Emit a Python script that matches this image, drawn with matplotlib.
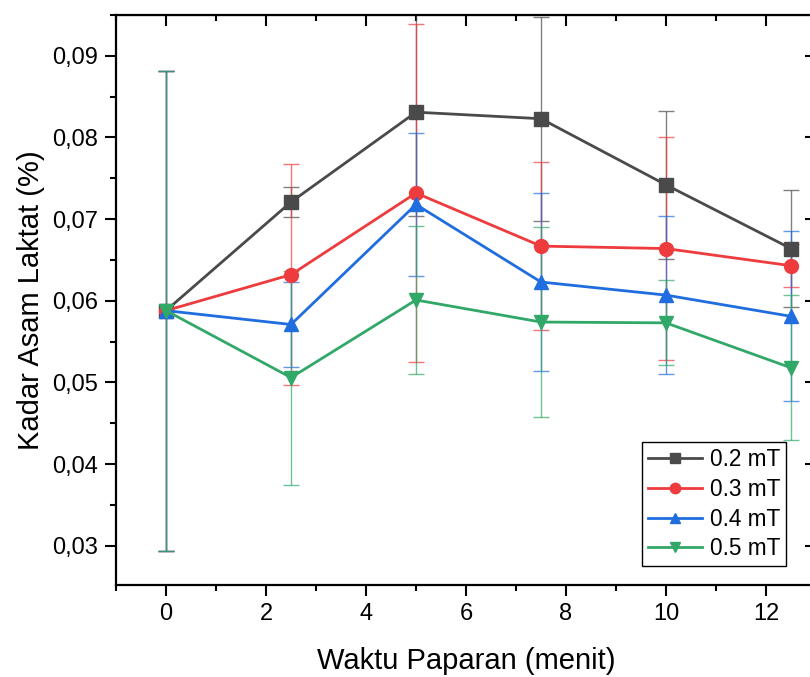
import matplotlib
matplotlib.use("Agg")
import matplotlib.pyplot as plt
from matplotlib.ticker import FuncFormatter, MultipleLocator

plt.rcParams['font.family'] = ['Liberation Sans', 'DejaVu Sans']

time = [0, 2.5, 5, 7.5, 10, 12.5]
labels = ["0.2 mT", "0.3 mT", "0.4 mT", "0.5 mT"]
y_02 = [0.0588, 0.0721, 0.0831, 0.0823, 0.0742, 0.0664]
e_02 = [0.0294, 0.0018, 0.0127, 0.0125, 0.0091, 0.0072]
y_03 = [0.0588, 0.0632, 0.0732, 0.0667, 0.0664, 0.0643]
e_03 = [0.0294, 0.0135, 0.0207, 0.0103, 0.0136, 0.0026]
y_04 = [0.0588, 0.0571, 0.0718, 0.0623, 0.0607, 0.0581]
e_04 = [0.0294, 0.0052, 0.0088, 0.0109, 0.0097, 0.0104]
y_05 = [0.0588, 0.0506, 0.0601, 0.0574, 0.0573, 0.0518]
e_05 = [0.0294, 0.0131, 0.0091, 0.0116, 0.0052, 0.0089]

series = [y_02, y_03, y_04, y_05]
errors = [e_02, e_03, e_04, e_05]
colors = ["#4a4a4a", "#ee3b3e", "#1f6ddf", "#32a868"]
markers = ["s", "o", "^", "v"]

fig = plt.figure(figsize=(8.10, 6.77), dpi=100)
ax = fig.add_axes([116/810, 1-585/677, 700/810, 570/677])

for ys, es, c in zip(series, errors, colors):
    ax.errorbar(time, ys, yerr=es, fmt='none', ecolor=c, elinewidth=1.0,
                capsize=6, capthick=1.0, alpha=0.7, zorder=2)
for ys, c, m, lab in zip(series, colors, markers, labels):
    ax.plot(time, ys, color=c, marker=m, markersize=10, linewidth=2.0,
            label=lab, zorder=3)

ax.set_xlim(-1, 13)
ax.set_ylim(0.0252, 0.095)
ax.xaxis.set_major_locator(MultipleLocator(2))
ax.xaxis.set_minor_locator(MultipleLocator(1))
ax.yaxis.set_major_locator(MultipleLocator(0.01))
ax.yaxis.set_minor_locator(MultipleLocator(0.005))
ax.yaxis.set_major_formatter(FuncFormatter(lambda v, p: f"{v:.2f}".replace('.', ',')))

ax.tick_params(which='major', direction='out', length=8, width=1.5, labelsize=17, pad=5)
ax.tick_params(which='minor', direction='out', length=4, width=1.5)
for s in ax.spines.values():
    s.set_linewidth(1.6)

top = ax.secondary_xaxis('top')
top.xaxis.set_major_locator(MultipleLocator(2))
top.xaxis.set_minor_locator(MultipleLocator(1))
top.tick_params(which='major', direction='in', length=8, width=1.5, labeltop=False)
top.tick_params(which='minor', direction='in', length=4, width=1.5)
right = ax.secondary_yaxis('right')
right.yaxis.set_major_locator(MultipleLocator(0.01))
right.yaxis.set_minor_locator(MultipleLocator(0.005))
right.tick_params(which='major', direction='in', length=8, width=1.5, labelright=False)
right.tick_params(which='minor', direction='in', length=4, width=1.5)

ax.set_xlabel("Waktu Paparan (menit)", fontsize=21, labelpad=16)
ax.set_ylabel("Kadar Asam Laktat (%)", fontsize=21, labelpad=5)

leg = ax.legend(loc='lower right', bbox_to_anchor=((786-116)/700, (585-566)/570),
                borderaxespad=0, fontsize=16.3, markerscale=0.75,
                frameon=True, fancybox=False, edgecolor='black', framealpha=1,
                handlelength=2.4, borderpad=0.25, labelspacing=0.3, handletextpad=0.35)
leg.get_frame().set_linewidth(1.0)

fig.savefig("out.png", dpi=100)
